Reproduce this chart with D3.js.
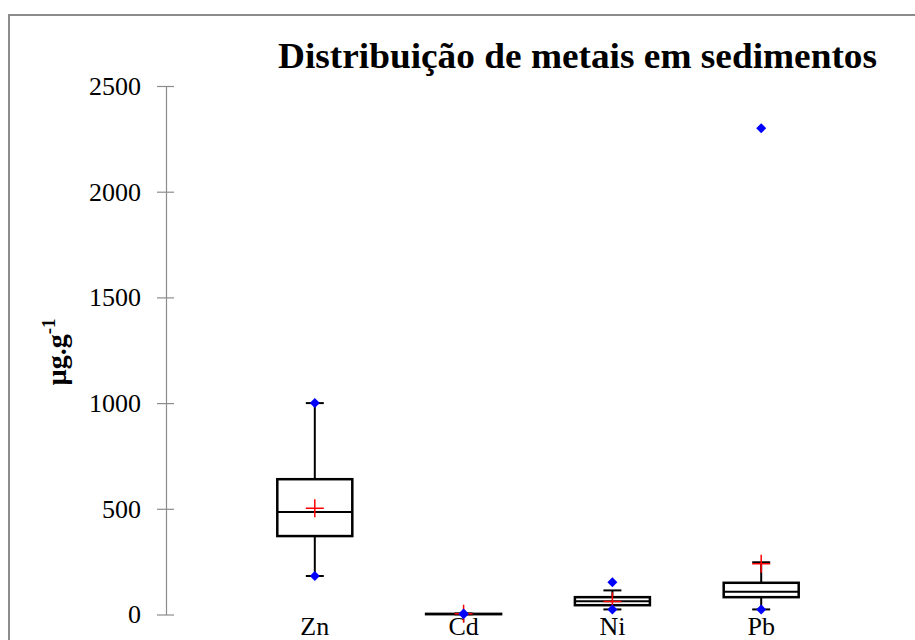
<!DOCTYPE html>
<html><head><meta charset="utf-8">
<script src="https://cdn.jsdelivr.net/npm/d3@7"></script>
<style>body{margin:0;background:#fff}svg{display:block}</style>
</head><body>
<script>
const categories = ["Zn", "Cd", "Ni", "Pb"];
const minVals     = [182, 1, 24, 24];
const whiskerLow  = [182, 1, 24, 24];
const q1Vals      = [371, 1.5, 44, 82];
const medianVals  = [485, 2, 63, 108];
const q3Vals      = [640, 3, 82, 150];
const whiskerHigh = [1000, 5, 114, 247];
const maxVals     = [1000, 5, 153, 2300];
const meanVals    = [503, 3, 61, 240];
const yTicks      = [0, 500, 1000, 1500, 2000, 2500];
const title = "Distribuição de metais em sedimentos";

const W = 915, H = 640;
const svg = d3.select("body").append("svg").attr("width", W).attr("height", H);
const serif = "'Liberation Serif','Times New Roman',serif";

// outer frame
svg.append("rect").attr("x", 9).attr("y", 15).attr("width", W + 20).attr("height", H + 20)
  .attr("fill", "none").attr("stroke", "#8c8c8c").attr("stroke-width", 2);

const axisX = 166;
const y = d3.scaleLinear().domain([0, 2500]).range([614.5, 86]);
const x = d3.scalePoint().domain(categories).range([axisX, 910]).padding(1);

// y axis
const yAxis = d3.axisLeft(y).tickValues(yTicks).tickFormat(d3.format("d"))
  .tickSizeInner(9).tickSizeOuter(0).tickPadding(16);
const ag = svg.append("g").attr("transform", `translate(${axisX},0)`).call(yAxis);
ag.select(".domain").attr("stroke", "#8c8c8c").attr("stroke-width", 1.2);
ag.selectAll(".tick line").attr("stroke", "#8c8c8c").attr("stroke-width", 1.2).attr("x1", 8);
ag.selectAll(".tick text").attr("font-family", serif).attr("font-size", 26).attr("fill", "#000");

// title
svg.append("text").attr("x", 278).attr("y", 68).attr("font-family", serif)
  .attr("font-weight", "bold").attr("font-size", 36).attr("fill", "#000")
  .attr("textLength", 599).attr("lengthAdjust", "spacingAndGlyphs").text(title);

// y label
const yl = svg.append("text").attr("transform", "translate(66,352) rotate(-90)")
  .attr("text-anchor", "middle").attr("font-family", serif).attr("font-weight", "bold")
  .attr("font-size", 28).attr("fill", "#000");
yl.append("tspan").text("µg.g");
yl.append("tspan").attr("font-size", 19).attr("dy", -11).text("-1");

// category labels
svg.append("g").selectAll("text").data(categories).join("text")
  .attr("x", d => x(d)).attr("y", 635).attr("text-anchor", "middle")
  .attr("font-family", serif).attr("font-size", 26).attr("fill", "#000").text(d => d);

const data = categories.map((c, i) => ({c, min: minVals[i], wl: whiskerLow[i], q1: q1Vals[i],
  med: medianVals[i], q3: q3Vals[i], wh: whiskerHigh[i], max: maxVals[i], mean: meanVals[i]}));

const boxW = 75, capW = 18, plus = 9, dia = 5;
const g = svg.append("g");
data.forEach(d => {
  const cx = x(d.c);
  g.append("line").attr("x1", cx).attr("x2", cx).attr("y1", y(d.wl)).attr("y2", y(d.q1))
    .attr("stroke", "#000").attr("stroke-width", 2);
  g.append("line").attr("x1", cx).attr("x2", cx).attr("y1", y(d.q3)).attr("y2", y(d.wh))
    .attr("stroke", "#000").attr("stroke-width", 2);
  [d.wl, d.wh].forEach(v => g.append("line").attr("x1", cx - capW / 2).attr("x2", cx + capW / 2)
    .attr("y1", y(v)).attr("y2", y(v)).attr("stroke", "#000").attr("stroke-width", 2));
  g.append("rect").attr("x", cx - boxW / 2).attr("width", boxW)
    .attr("y", y(d.q3)).attr("height", Math.max(0, y(d.q1) - y(d.q3)))
    .attr("fill", "#fff").attr("stroke", "#000").attr("stroke-width", 2.5);
  g.append("line").attr("x1", cx - boxW / 2).attr("x2", cx + boxW / 2)
    .attr("y1", y(d.med)).attr("y2", y(d.med)).attr("stroke", "#000").attr("stroke-width", 2);
  const my = y(d.mean);
  g.append("path").attr("d", `M${cx - plus},${my}H${cx + plus}M${cx},${my - plus}V${my + plus}`)
    .attr("stroke", "#ff0000").attr("stroke-width", 1.5).attr("fill", "none");
  [d.min, d.max].forEach(v => {
    const py = y(v);
    g.append("path").attr("d", `M${cx},${py - dia}L${cx + dia},${py}L${cx},${py + dia}L${cx - dia},${py}Z`)
      .attr("fill", "#0000ff");
  });
});
</script>
</body></html>
